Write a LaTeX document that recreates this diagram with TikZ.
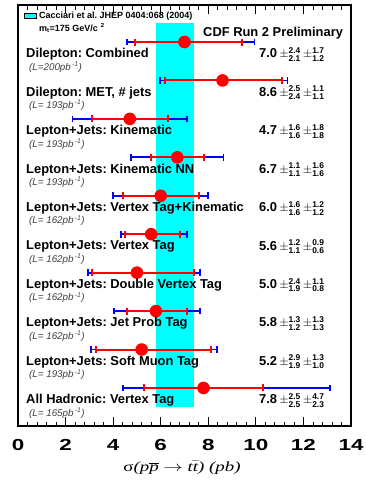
\documentclass[tikz,border=0pt]{standalone}
\usepackage{fontspec}
\usepackage{amsmath}
\usepackage{graphicx}
\setmainfont{Liberation Sans}
\newfontfamily\tms{Liberation Serif}
\frenchspacing
\definecolor{band}{RGB}{0,255,255}
\newcommand\errpm[2]{$\pm^{\text{\fontsize{8.4}{9}\selectfont#1}}_{\text{\fontsize{8.4}{9}\selectfont#2}}$}

\tikzset{
  lab/.style={anchor=west, inner sep=0pt, font=\fontsize{12.9}{14}\selectfont\bfseries},
  lum/.style={anchor=west, inner sep=0pt, text=black!75, font=\fontsize{9.8}{10}\selectfont\itshape},
  stat/.style={red, line width=2pt},
  syst/.style={blue, line width=1.8pt},
}

\begin{document}
\begin{tikzpicture}[x=1pt,y=-1pt]
  \useasboundingbox (0,0) rectangle (365,485);
  % theory band, mt=175
  \fill[band] (18+23.786*5.8,23) rectangle (18+23.786*7.4,407);
  \node[draw, fill=band, inner sep=0pt, minimum width=12pt, minimum height=5.5pt] (key) at (30,15.5) {};
  \node[anchor=west, inner sep=0pt, font=\fontsize{9}{10}\selectfont\bfseries] (keytxt) at (39,16) {Cacciari et al. JHEP 0404:068 (2004)};
  \node[anchor=west, inner sep=0pt, font=\fontsize{9}{10}\selectfont\bfseries] (mtop) at (39,28) {m\textsubscript{t}=175 GeV/c\,\,\textsuperscript{2}};
  \node[lab] (cdf) at (203,33) {CDF Run 2 Preliminary};

  \foreach \name/\lumi/\xs/\stu/\std/\syu/\syd [count=\i] in {
      {Dilepton: Combined}/200/7.0/2.4/2.1/1.7/1.2,
      {Dilepton: MET, \# jets}/~193/8.6/2.5/2.4/1.1/1.1,
      {Lepton+Jets: Kinematic}/~193/4.7/1.6/1.6/1.8/1.8,
      {Lepton+Jets: Kinematic NN}/~193/6.7/1.1/1.1/1.6/1.6,
      {Lepton+Jets: Vertex Tag+Kinematic}/~162/6.0/1.6/1.6/1.2/1.2,
      {Lepton+Jets: Vertex Tag}/~162/5.6/1.2/1.1/0.9/0.6,
      {Lepton+Jets: Double Vertex Tag}/~162/5.0/2.4/1.9/1.1/0.8,
      {Lepton+Jets: Jet Prob Tag}/~162/5.8/1.3/1.2/1.3/1.3,
      {Lepton+Jets: Soft Muon Tag}/~193/5.2/2.9/1.9/1.3/1.0,
      {All Hadronic: Vertex Tag}/~165/7.8/2.5/2.5/4.7/2.3} {
    \pgfmathsetmacro\y{42+(\i-1)*38.44}
    \pgfmathsetmacro\pc{18+23.786*\xs}
    \pgfmathsetmacro\ru{18+23.786*(\xs+\stu)}
    \pgfmathsetmacro\rd{18+23.786*(\xs-\std)}
    \pgfmathsetmacro\bu{18+23.786*(\xs+sqrt(\stu*\stu+\syu*\syu))}
    \pgfmathsetmacro\bd{18+23.786*(\xs-sqrt(\std*\std+\syd*\syd))}
    \draw[syst] (\bd,\y) -- (\bu,\y);
    \draw[syst] (\bd,\y-3.3) -- (\bd,\y+3.3) (\bu,\y-3.3) -- (\bu,\y+3.3);
    \draw[stat] (\rd,\y) -- (\ru,\y);
    \draw[stat] (\rd,\y-3.5) -- (\rd,\y+3.5) (\ru,\y-3.5) -- (\ru,\y+3.5);
    \fill[red] (\pc,\y) circle[radius=6.3pt];
    \node[lab] (lab\i) at (26,\y+12.5) {\name};
    \node[lab] (val\i) at (259,\y+12.5) {\xs\,\errpm{\stu}{\std}\,\errpm{\syu}{\syd}};
    \node[lum] (lum\i) at (29,\y+25) {(L=\lumi pb\textsuperscript{\,-1})};
  }

  % frame and ticks
  \draw[line width=1.1pt] (18,5) rectangle (351,426);
  \foreach \k in {0,...,35} {
    \pgfmathsetmacro\tx{18+23.786*0.4*\k}
    \pgfmathsetmacro\tl{mod(\k,5)==0 ? 9 : 4.5}
    \draw[line width=0.8pt] (\tx,426) -- (\tx,426-\tl) (\tx,5) -- (\tx,5+\tl);
  }
  \foreach \t in {0,2,...,14}
    \node[font=\fontsize{16}{18}\selectfont\bfseries] (tick\t) at (18+23.786*\t,445) {\scalebox{1.4}[1]{\t}};
  \node[font=\tms\fontsize{14}{16}\selectfont\itshape] (xtitle) at (182,468)
    {\scalebox{1.35}[1]{{\upshape σ}(p$\overline{\mbox{p}}$ $\rightarrow$ t$\bar{\mbox{t}}$) (pb)}};
\end{tikzpicture}
\end{document}
